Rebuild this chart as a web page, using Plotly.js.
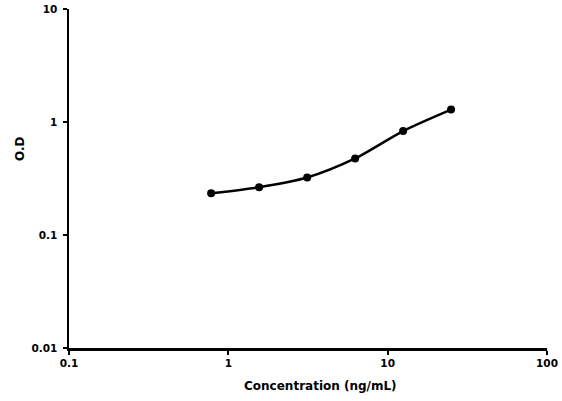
<!DOCTYPE html>
<html>
<head>
<meta charset="utf-8">
<script src="https://cdn.plot.ly/plotly-3.0.1.min.js"></script>
<style>
  html, body { margin: 0; padding: 0; background: #fff; }
  #plot { width: 562px; height: 401px; }
</style>
</head>
<body>
<div id="plot"></div>
<script>
// standard curve readings
let concentration = [0.78, 1.56, 3.125, 6.25, 12.5, 25];
let od = [0.234, 0.265, 0.323, 0.476, 0.832, 1.288];

let xTicks = [0.1, 1, 10, 100];
let xTickText = ['0.1', '1', '10', '100'];
let yTicks = [0.01, 0.1, 1, 10];
let yTickText = ['0.01', '0.1', '1', '10'];

let fontFamily = '"DejaVu Sans", sans-serif';

let trace1 = {
  x: concentration,
  y: od,
  type: 'scatter',
  mode: 'lines+markers',
  line: {shape: 'spline', smoothing: 0.8, color: '#000', width: 2.5},
  marker: {size: 8, color: '#000'},
  hoverinfo: 'x+y'
};

let bold = t => '<b>' + t + '</b>';

let axisCommon = {
  type: 'log',
  showline: true,
  linecolor: '#000',
  linewidth: 2.5,
  showgrid: false,
  zeroline: false,
  ticks: 'outside',
  ticklen: 4,
  tickwidth: 2,
  tickcolor: '#000',
  tickfont: {family: fontFamily, size: 10.5, color: '#000'},
  automargin: false
};

let layout = {
  width: 562,
  height: 401,
  margin: {l: 69, r: 15, t: 9, b: 53},
  paper_bgcolor: '#fff',
  plot_bgcolor: '#fff',
  showlegend: false,
  xaxis: Object.assign({}, axisCommon, {
    range: [-1, 2],
    tickvals: xTicks,
    ticktext: xTickText.map(bold)
  }),
  yaxis: Object.assign({}, axisCommon, {
    range: [-2, 1],
    tickvals: yTicks,
    ticktext: yTickText.map(bold),
    ticklabelstandoff: 3
  }),
  // axis titles sit off-centre in the original, so place them directly
  annotations: [
    {
      text: '<b>Concentration (ng/mL)</b>',
      xref: 'paper', yref: 'paper',
      x: 0.527, y: -0.112,
      xanchor: 'center', yanchor: 'middle',
      showarrow: false,
      font: {family: fontFamily, size: 12, color: '#000'}
    },
    {
      text: '<b>O.D</b>',
      xref: 'paper', yref: 'paper',
      x: -0.1025, y: 0.587,
      xanchor: 'center', yanchor: 'middle',
      textangle: -90,
      showarrow: false,
      font: {family: fontFamily, size: 12, color: '#000'}
    }
  ]
};

Plotly.newPlot('plot', [trace1], layout, {displayModeBar: false, staticPlot: true});
</script>
</body>
</html>
